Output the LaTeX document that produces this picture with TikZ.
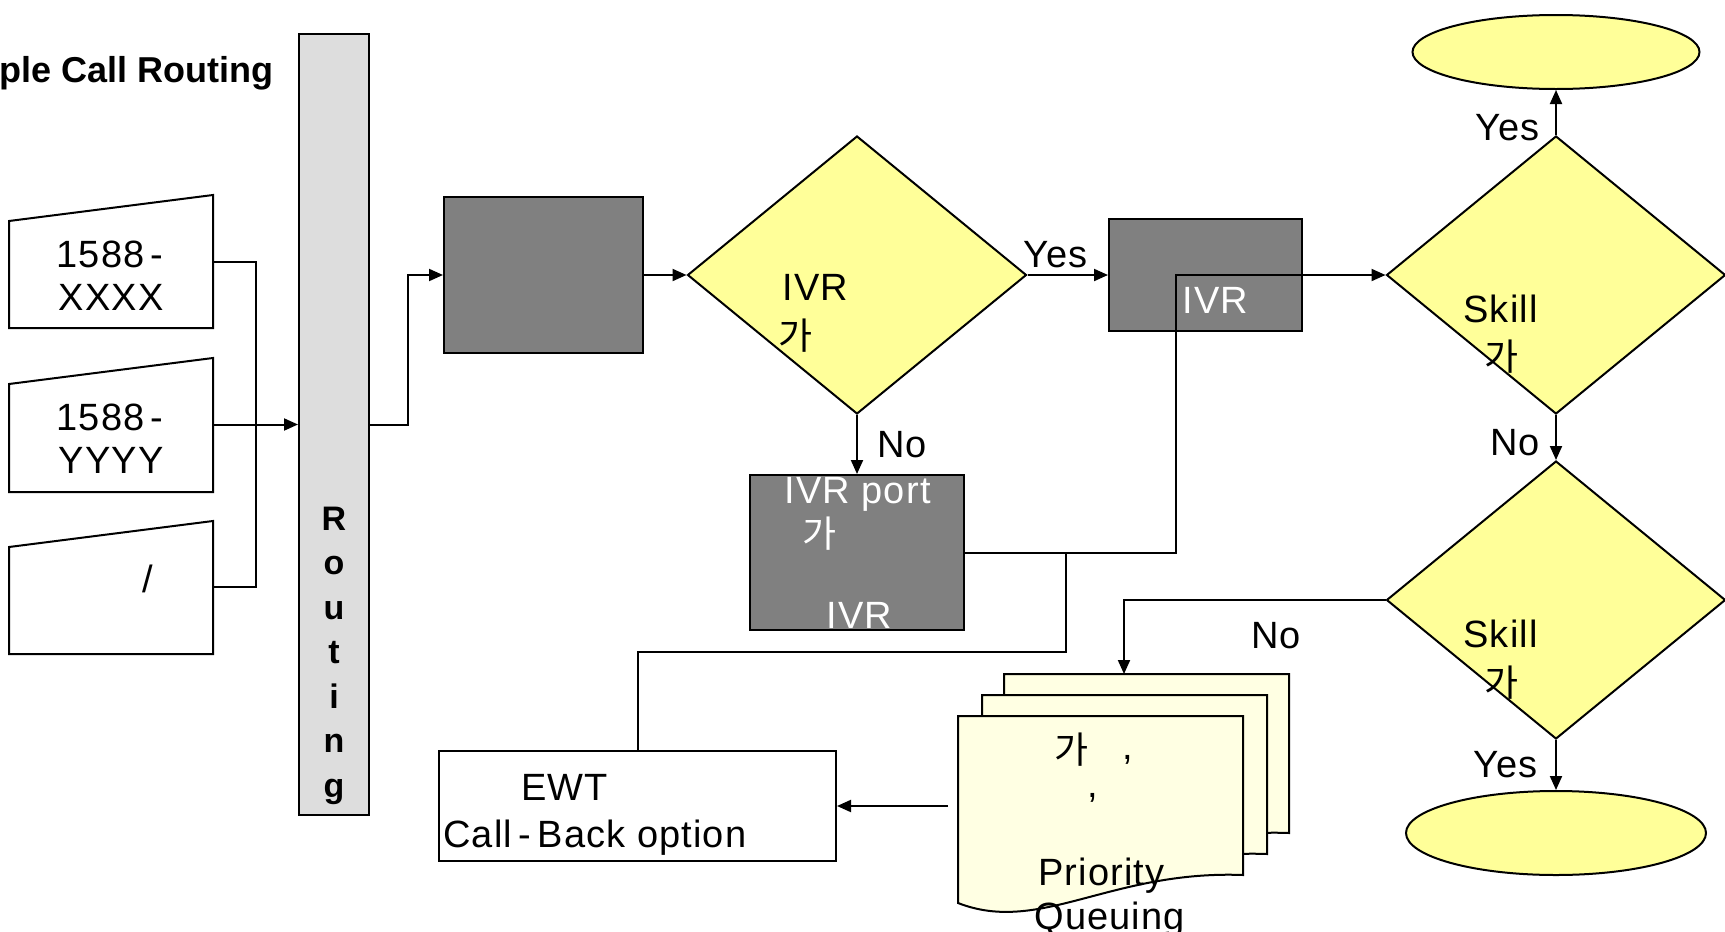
\documentclass[tikz,border=0pt]{standalone}
\usepackage{fontspec}
\setmainfont{Liberation Sans}
\newfontfamily\bodyfont{Liberation Sans}[LetterSpace=3]
\newfontfamily\kr{Noto Sans CJK KR}
\usetikzlibrary{arrows.meta,shapes.geometric,calc}
\definecolor{diafill}{HTML}{FFFF99}
\definecolor{docfill}{HTML}{FFFFE3}
\definecolor{darkfill}{HTML}{808080}
\definecolor{barfill}{HTML}{DDDDDD}
\begin{document}
\begin{tikzpicture}[x=0.5pt,y=-0.5pt,
  ln/.style={line width=1pt},
  arr/.style={ln,-{Triangle[length=7pt,width=6pt]}},
  darkbox/.style={rectangle,draw,ln,fill=darkfill,inner sep=0pt},
  whitebox/.style={rectangle,draw,ln,fill=white,inner sep=0pt},
  decision/.style={diamond,draw,ln,fill=diafill,inner sep=0pt,minimum width=169.5pt,minimum height=139pt},
  term/.style={ellipse,draw,ln,fill=diafill,inner sep=0pt},
  docpage/.style={draw,ln,fill=docfill},
  inputbox/.style={draw,ln,fill=white},
  txt/.style={font=\bodyfont\fontsize{19pt}{22pt}\selectfont,inner sep=0pt},
  wtxt/.style={txt,text=white},
  krtxt/.style={font=\kr\fontsize{18.5pt}{21.6pt}\selectfont,inner sep=0pt},
  wkrtxt/.style={krtxt,text=white},
  rlet/.style={font=\bfseries\fontsize{17pt}{19pt}\selectfont,inner sep=0pt,anchor=base},
]
\useasboundingbox (0,0) rectangle (1725,932);

% title
\node[font=\bfseries\fontsize{18pt}{20pt}\selectfont,anchor=base east,inner sep=0pt] (title) at (274,82) {ple Call Routing};

% input boxes
\draw[inputbox] (9,221) -- (213,195) -- (213,328) -- (9,328) -- cycle;
\draw[inputbox] (9,384) -- (213,358) -- (213,492) -- (9,492) -- cycle;
\draw[inputbox] (9,547) -- (213,521) -- (213,654) -- (9,654) -- cycle;
\coordinate (in1) at (213,262);
\coordinate (in2) at (213,424.5);
\coordinate (in3) at (213,587);
\node[txt,anchor=base] (t1a) at (110,267) {1588\,-};
\node[txt,anchor=base] (t1b) at (111,310) {XXXX};
\node[txt,anchor=base] (t2a) at (110,430) {1588\,-};
\node[txt,anchor=base] (t2b) at (111,473) {YYYY};
\node[txt,anchor=base] (t3a) at (148,592) {/};

% routing bar
\node[rectangle,draw,ln,fill=barfill,inner sep=0pt,minimum width=35pt,minimum height=390.5pt] (bar) at (334,424.5) {};
\foreach \l [count=\i] in {R,o,u,t,i,n,g}
  \node[rlet] (r\i) at (334,{485.5+44.5*\i}) {\l};

% boxes
\node[darkbox,minimum width=99.5pt,minimum height=78pt] (boxA) at (543.5,275) {};
\node[decision] (d1) at (857,275) {};
\node[darkbox,minimum width=96.5pt,minimum height=56pt] (boxC) at (1205.5,275) {};
\node[darkbox,minimum width=107pt,minimum height=77.5pt] (boxB) at (857,552.5) {};
\node[whitebox,minimum width=198.5pt,minimum height=55pt] (ewt) at (637.5,806) {};
\node[decision] (d2) at (1556,275) {};
\node[decision] (d3) at (1556,600) {};
\node[term,minimum width=143.5pt,minimum height=37pt] (ell1) at (1556,52) {};
\node[term,minimum width=150pt,minimum height=42pt] (ell2) at (1556,833) {};

% document stack
\foreach \dx/\dy in {46/-42,24/-21,0/0}
  \draw[docpage,shift={(\dx,\dy)}] (958,716) -- (1243,716) -- (1243,875)
     .. controls (1110,870) and (1040,935) .. (958,903) -- cycle;
\coordinate (doctop) at (1124,674);
\coordinate (docfree) at (948,806);

% texts in shapes
\node[txt,anchor=base west] (d1t) at (782,300) {IVR};
\node[krtxt] (d1k) at (796,336) {가};
\node[wtxt,anchor=base west] (bBt1) at (784,503) {IVR port};
\node[wkrtxt] (bBk) at (820,534) {가};
\node[wtxt,anchor=base west] (bBt2) at (826,628) {IVR};
\node[wtxt,anchor=base west] (bCt) at (1182,313) {IVR};
\node[txt,anchor=base west] (d2t) at (1463,322) {Skill};
\node[krtxt] (d2k) at (1502,357) {가};
\node[txt,anchor=base west] (d3t) at (1463,647) {Skill};
\node[krtxt] (d3k) at (1502,683) {가};
\node[txt,anchor=base west] (ewt1) at (521,800) {EWT};
\node[txt,anchor=base west] (ewt2) at (443,847) {Call\,-\,Back option};
\node[krtxt] (dock) at (1072,750) {가};
\node[txt,anchor=base] (docc1) at (1128,759) {,};
\node[txt,anchor=base] (docc2) at (1093,797) {,};
\node[txt,anchor=base west] (docp) at (1038,885) {Priority};
\node[txt,anchor=base west] (docq) at (1034,929) {Queuing};

% labels
\node[txt,anchor=base west] (lYes1) at (1023,267) {Yes};
\node[txt,anchor=base west] (lNo1) at (877,457) {No};
\node[txt,anchor=base west] (lYes2) at (1475,140) {Yes};
\node[txt,anchor=base west] (lNo2) at (1490,455) {No};
\node[txt,anchor=base west] (lNo3) at (1251,648) {No};
\node[txt,anchor=base west] (lYes3) at (1473,777) {Yes};

% connectors
\draw[ln] (in1) -- (256,262) -- (256,587) -- (in3);
\draw[arr] (in2) -- (bar.west);
\draw[arr] (bar.east) -- ++(38,0) |- (boxA.west);
\draw[arr] (boxA.east) -- (d1.west);
\draw[arr] (d1.east) -- (boxC.west);
\draw[arr] (d1.south) -- (boxB.north);
\draw[arr] (boxB.east) -- ++(211,0) |- (d2.west);
\coordinate (j1) at (1066,552.5);
\draw[ln] (j1) -- (1066,652) -| (ewt.north);
\draw[arr] (d2.north) -- (ell1.south);
\draw[arr] (d2.south) -- (d3.north);
\draw[arr] (d3.south) -- (ell2.north);
\draw[arr] (d3.west) -| (doctop);
\draw[arr] (docfree) -- (ewt.east);
\end{tikzpicture}
\end{document}
